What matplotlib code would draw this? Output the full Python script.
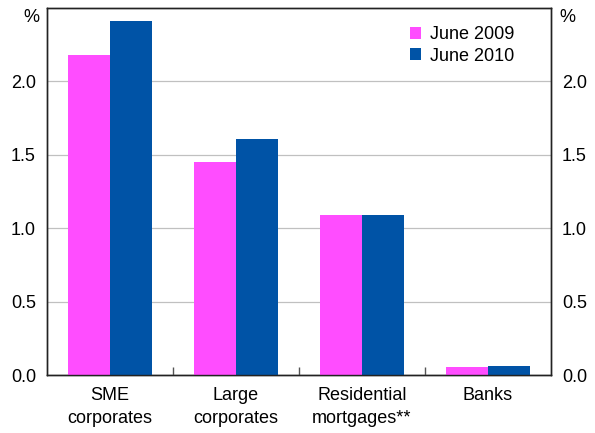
import matplotlib.pyplot as plt
import numpy as np

categories = ['SME\ncorporates', 'Large\ncorporates', 'Residential\nmortgages**', 'Banks']
june_2009 = [2.18, 1.45, 1.09, 0.054]
june_2010 = [2.41, 1.61, 1.09, 0.061]
yticks = [0.0, 0.5, 1.0, 1.5, 2.0]

pink = '#ff4dff'
blue = '#0053a6'
fs = 13

plt.rcParams['font.family'] = ['Liberation Sans', 'DejaVu Sans']

fig = plt.figure(figsize=(5.95, 4.33), dpi=100)
ax = fig.add_axes([47/595, 58/433, 504/595, 367/433])

x = np.arange(len(categories))
w = 0.337
ax.bar(x - w/2, june_2009, w, color=pink, label='June 2009', zorder=3)
ax.bar(x + w/2, june_2010, w, color=blue, label='June 2010', zorder=3)

ax.set_xlim(-0.5, 3.5)
ax.set_ylim(0, 2.5)
ax.set_yticks(yticks)
ax.set_yticklabels(['%.1f' % v for v in yticks], fontsize=fs)
ax.tick_params(axis='y', length=0, pad=8)
ax.yaxis.grid(True, color='#c0c0c0', linewidth=0.9, zorder=0)

ax.set_xticks(x)
ax.set_xticklabels(categories, fontsize=fs, linespacing=1.4)
ax.tick_params(axis='x', length=0, pad=9)
ax.set_xticks([0.5, 1.5, 2.5], minor=True)
ax.tick_params(axis='x', which='minor', direction='in', length=6, width=1, color='#555555')

ax2 = ax.twinx()
ax2.set_ylim(0, 2.5)
ax2.set_yticks(yticks)
ax2.set_yticklabels(['%.1f' % v for v in yticks], fontsize=fs)
ax2.tick_params(axis='y', length=0, pad=8)

for a in (ax, ax2):
    for s in a.spines.values():
        s.set_linewidth(1.0)
        s.set_color('#222222')

fig.text(31/595, 1 - 17/433, '%', fontsize=fs, ha='center', va='center')
fig.text(567/595, 1 - 17/433, '%', fontsize=fs, ha='center', va='center')

leg = ax.legend(loc='upper left', bbox_to_anchor=(350/504, 0.985), frameon=False, fontsize=fs,
                handlelength=0.65, handleheight=0.65, handletextpad=0.45, labelspacing=0.25,
                borderaxespad=0.3)

fig.savefig('out.png', dpi=100)
